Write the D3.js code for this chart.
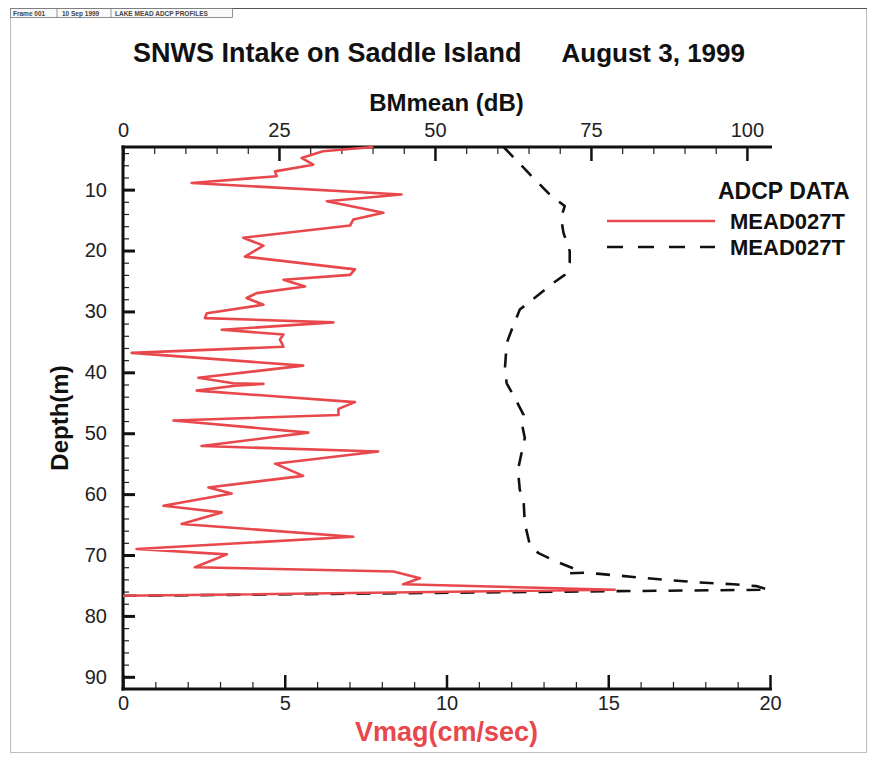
<!DOCTYPE html>
<html>
<head>
<meta charset="utf-8">
<script src="https://cdn.jsdelivr.net/npm/d3@7"></script>
<style>
  html, body { margin: 0; padding: 0; background: #fff; }
  svg { display: block; font-family: "Liberation Sans", Arial, sans-serif; }
</style>
</head>
<body>
<svg id="chart" width="870" height="766"></svg>
<script>
// ---------- DATA ----------
const vmagDepth = [3.0,3.7,4.8,5.9,7.0,7.8,8.9,10.8,11.9,13.8,14.9,15.9,17.9,19.2,21.0,23.1,24.0,24.8,25.9,27.0,27.8,28.9,30.3,31.1,31.8,33.0,33.8,34.6,35.8,36.8,38.9,40.9,41.8,41.9,42.2,43.0,44.9,46.0,47.0,47.9,49.9,52.1,53.0,55.0,57.0,58.9,59.9,61.9,63.0,64.9,67.0,69.0,69.9,72.0,72.7,73.8,74.8,75.7,76.7];
const vmagValues = [7.74,6.18,5.52,5.88,4.70,4.75,2.12,8.61,6.30,8.05,7.12,7.02,3.72,4.34,3.77,7.17,7.02,4.96,5.63,4.13,3.82,4.34,2.59,2.53,6.50,3.05,4.96,4.85,4.96,0.27,5.57,2.33,3.41,4.34,3.46,2.28,7.17,6.66,6.66,1.56,5.73,2.43,7.89,4.70,5.57,2.64,3.36,1.25,3.05,1.81,7.12,0.42,3.21,2.22,8.36,9.18,8.66,15.2,0.0];

const bmDepth = [3.0,8.1,10.8,12.7,14.6,17.1,20.1,22.0,24.0,25.3,29.7,33.0,35.2,39.6,41.8,44.2,47.0,48.3,50.8,56.0,59.3,60.9,64.8,68.3,69.7,71.1,72.4,73.0,72.9,73.1,73.6,74.1,74.5,74.8,75.1,75.7,76.7];
const bmValues = [61.0,65.8,68.4,70.8,70.2,70.6,71.6,71.6,70.8,69.0,63.6,62.3,61.5,61.2,61.5,62.8,64.2,63.9,64.4,63.3,63.6,64.2,64.4,65.2,66.6,69.5,72.7,71.6,74.0,76.4,81.8,87.1,92.5,97.8,101.5,103.5,0.0];

const depthTicks = [10,20,30,40,50,60,70,80,90];
const vmagTicks = [0,5,10,15,20];
const bmTicks = [0,25,50,75,100];

const titleLeft = "SNWS Intake on Saddle Island";
const titleRight = "August 3, 1999";
const topAxisTitle = "BMmean (dB)";
const bottomAxisTitle = "Vmag(cm/sec)";
const leftAxisTitle = "Depth(m)";
const legendTitle = "ADCP DATA";
const seriesNames = ["MEAD027T", "MEAD027T"];
const headerCells = ["Frame 001", "10 Sep 1999", "LAKE MEAD ADCP PROFILES"];

// ---------- LAYOUT ----------
const svg = d3.select("#chart");
const L = 123, R = 770, T = 147, B = 689;
const red = "#e8474c";

const y = d3.scaleLinear().domain([3, 92]).range([T, B]);
const xB = d3.scaleLinear().domain([0, 20]).range([L, R]);
const xT = d3.scaleLinear().domain([0, 103.7]).range([L, R]);

// outer frame and header
const frame = svg.append("g");
frame.append("rect").attr("x", 10.5).attr("y", 8.5).attr("width", 856).attr("height", 744)
  .attr("fill", "none").attr("stroke", "#bdbdbd").attr("stroke-width", 1);
frame.append("line").attr("x1", 10).attr("x2", 867).attr("y1", 8.5).attr("y2", 8.5)
  .attr("stroke", "#555").attr("stroke-width", 1.2);
frame.append("rect").attr("x", 10.5).attr("y", 8.5).attr("width", 222).attr("height", 9)
  .attr("fill", "#fafafa").attr("stroke", "#777").attr("stroke-width", 0.8);
const cellX = [13, 62, 115];
const divX = [57, 111];
divX.forEach(dx => frame.append("line").attr("x1", dx).attr("x2", dx).attr("y1", 9).attr("y2", 17.5)
  .attr("stroke", "#777").attr("stroke-width", 0.8));
headerCells.forEach((t, i) => frame.append("text").attr("x", cellX[i]).attr("y", 15.5)
  .attr("font-size", 6.5).attr("font-weight", "bold").attr("fill", "#444").text(t));

// ---------- AXES ----------
const axisG = svg.append("g");
function styleAxis(g) {
  g.select(".domain").remove();
  g.selectAll("line").attr("stroke", "#111").attr("stroke-width", 2);
  g.selectAll("text").attr("fill", "#222").attr("font-size", 20);
}

// left axis (ticks inward)
const yMinor = d3.range(4, 92, 2).filter(d => d % 10 !== 0);
axisG.append("g").attr("transform", `translate(${L},0)`)
  .call(d3.axisRight(y).tickValues(yMinor).tickSize(6).tickFormat(""))
  .call(g => { g.select(".domain").remove(); g.selectAll("line").attr("stroke", "#222").attr("stroke-width", 1.2); });
axisG.append("g").attr("transform", `translate(${L},0)`)
  .call(d3.axisRight(y).tickValues(depthTicks).tickSize(12).tickFormat(d3.format("d")))
  .call(styleAxis)
  .call(g => g.selectAll("line").attr("stroke-width", 3))
  .call(g => g.selectAll("text").attr("x", -16).attr("text-anchor", "end"));

// bottom axis (ticks inward)
const xBMinor = d3.range(1, 20, 1).filter(d => d % 5 !== 0);
axisG.append("g").attr("transform", `translate(0,${B})`)
  .call(d3.axisTop(xB).tickValues(xBMinor).tickSize(7).tickFormat(""))
  .call(g => { g.select(".domain").remove(); g.selectAll("line").attr("stroke", "#222").attr("stroke-width", 1.2); });
axisG.append("g").attr("transform", `translate(0,${B})`)
  .call(d3.axisTop(xB).tickValues(vmagTicks).tickSize(14).tickFormat(d3.format("d")))
  .call(styleAxis)
  .call(g => g.selectAll("line").attr("stroke-width", 2.5))
  .call(g => g.selectAll("text").attr("y", 7).attr("dy", "0.71em"));

// top axis (ticks inward)
const xTMinor = d3.range(5, 103, 5).filter(d => d % 25 !== 0);
axisG.append("g").attr("transform", `translate(0,${T})`)
  .call(d3.axisBottom(xT).tickValues(xTMinor).tickSize(7).tickFormat(""))
  .call(g => { g.select(".domain").remove(); g.selectAll("line").attr("stroke", "#222").attr("stroke-width", 1.2); });
axisG.append("g").attr("transform", `translate(0,${T})`)
  .call(d3.axisBottom(xT).tickValues(bmTicks).tickSize(14).tickFormat(d3.format("d")))
  .call(styleAxis)
  .call(g => g.selectAll("line").attr("stroke-width", 2.5))
  .call(g => g.selectAll("text").attr("y", -10).attr("dy", "0"));

// axis lines
axisG.append("line").attr("x1", L).attr("x2", L).attr("y1", T - 1.5).attr("y2", B + 1.5)
  .attr("stroke", "#111").attr("stroke-width", 3);
axisG.append("line").attr("x1", L - 1.5).attr("x2", R + 2).attr("y1", B).attr("y2", B)
  .attr("stroke", "#111").attr("stroke-width", 3);
axisG.append("line").attr("x1", L - 1.5).attr("x2", R + 2).attr("y1", T).attr("y2", T)
  .attr("stroke", "#111").attr("stroke-width", 3);

// ---------- LINES ----------
const vmagPts = vmagDepth.map((d, i) => [xB(vmagValues[i]), y(d)]);
const bmPts = bmDepth.map((d, i) => [xT(bmValues[i]), y(d)]);
const lineGen = d3.line();

svg.append("path").attr("d", lineGen(bmPts)).attr("fill", "none")
  .attr("stroke", "#111").attr("stroke-width", 2.6).attr("stroke-dasharray", "14,12")
  .attr("stroke-linejoin", "round");
svg.append("path").attr("d", lineGen(vmagPts)).attr("fill", "none")
  .attr("stroke", red).attr("stroke-width", 2.6).attr("stroke-linejoin", "round");

// ---------- TITLES ----------
svg.append("text").attr("x", 133).attr("y", 62).attr("font-size", 27).attr("font-weight", "bold")
  .attr("fill", "#111").text(titleLeft);
svg.append("text").attr("x", 745).attr("y", 62).attr("text-anchor", "end").attr("font-size", 26)
  .attr("font-weight", "bold").attr("fill", "#111").text(titleRight);
svg.append("text").attr("x", (L + R) / 2).attr("y", 111).attr("text-anchor", "middle")
  .attr("font-size", 24).attr("font-weight", "bold").attr("fill", "#111").text(topAxisTitle);
svg.append("text").attr("x", (L + R) / 2).attr("y", 741).attr("text-anchor", "middle")
  .attr("font-size", 27).attr("font-weight", "bold").attr("fill", red).text(bottomAxisTitle);
svg.append("text").attr("transform", `translate(68,${(T + B) / 2}) rotate(-90)`)
  .attr("text-anchor", "middle").attr("font-size", 24).attr("font-weight", "bold")
  .attr("fill", "#111").text(leftAxisTitle);

// ---------- LEGEND ----------
const lg = svg.append("g");
lg.append("text").attr("x", 718).attr("y", 199).attr("font-size", 23).attr("font-weight", "bold")
  .attr("fill", "#111").text(legendTitle);
const legY = [221, 247];
lg.append("line").attr("x1", 607).attr("x2", 715).attr("y1", legY[0]).attr("y2", legY[0])
  .attr("stroke", red).attr("stroke-width", 2.6);
lg.append("line").attr("x1", 607).attr("x2", 715).attr("y1", legY[1]).attr("y2", legY[1])
  .attr("stroke", "#111").attr("stroke-width", 2.6).attr("stroke-dasharray", "16,15");
seriesNames.forEach((n, i) => lg.append("text").attr("x", 730).attr("y", legY[i] + 8)
  .attr("font-size", 22).attr("font-weight", "bold").attr("fill", "#111").text(n));
</script>
</body>
</html>
